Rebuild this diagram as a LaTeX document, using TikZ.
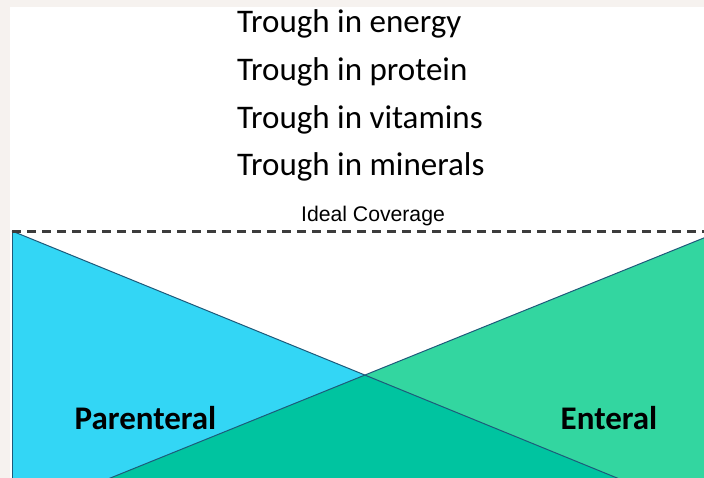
\documentclass[tikz,border=0pt]{standalone}
\usepackage{fontspec}
\setmainfont{Carlito}
\newfontfamily\arialish{Liberation Sans}
\begin{document}
\definecolor{pagebg}{HTML}{F6F2EF}
\definecolor{parblue}{HTML}{33D6F5}
\definecolor{entgreen}{HTML}{33D6A0}
\definecolor{overlapgreen}{HTML}{00C4A0}
\definecolor{edgeblue}{HTML}{1E5A7A}
\definecolor{dashgray}{HTML}{3C3C3C}
\begin{tikzpicture}[x=1pt,y=-1pt,
  trough/.style={anchor=base west,inner sep=0pt,font=\fontsize{33}{38}\selectfont},
  routelabel/.style={anchor=base,inner sep=0pt,font=\fontsize{33}{38}\selectfont\bfseries},
  edge/.style={draw=edgeblue,line width=1pt},
  idealline/.style={draw=dashgray,line width=3pt,dash pattern=on 8.5pt off 6.5pt}]
  \useasboundingbox (0,0) rectangle (704,477);
  \fill[pagebg] (-5,-5) rectangle (710,482);
  \fill[white] (10,7) rectangle (710,482);

  % corner points of the two coverage wedges
  \coordinate (pTop) at (12,231);
  \coordinate (pBot) at (12,500);
  \coordinate (pEnd) at (671,500);
  \coordinate (eTop) at (721,231);
  \coordinate (eBot) at (721,500);
  \coordinate (eEnd) at (56,500);
  \coordinate (cross) at (365,375);

  \begin{scope}
    \clip (10,7) rectangle (710,482);
    \fill[parblue] (pTop) -- (pBot) -- (pEnd) -- cycle;
    \fill[entgreen] (eTop) -- (eBot) -- (eEnd) -- cycle;
    \fill[overlapgreen] (cross) -- (eEnd) -- (pEnd) -- cycle;
    \draw[edge] (pTop) -- (pEnd);
    \draw[edge] (eTop) -- (eEnd);
    \draw[edge] (pTop) -- (pBot);
  \end{scope}

  % ideal coverage level
  \coordinate (idealEnd) at (708,231);
  \draw[idealline] (pTop) -- (idealEnd);
  \node[anchor=base,inner sep=0pt,font=\arialish\fontsize{21.2}{25}\selectfont] (ideal) at (373,221) {Ideal Coverage};

  \node[trough] (t1) at (237,32.3) {Trough in energy};
  \node[trough] (t2) at (237,80) {Trough in protein};
  \node[trough] (t3) at (237,128.2) {Trough in vitamins};
  \node[trough] (t4) at (237,175.7) {Trough in minerals};

  \node[routelabel] (par) at (145.5,429) {Parenteral};
  \node[routelabel] (ent) at (609,429) {Enteral};
\end{tikzpicture}
\end{document}
